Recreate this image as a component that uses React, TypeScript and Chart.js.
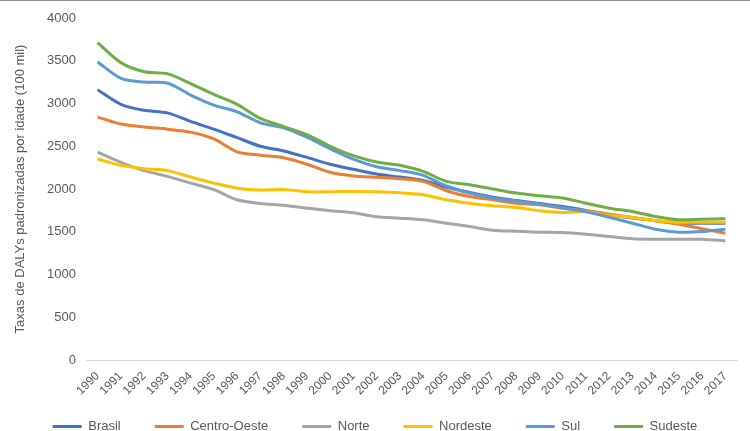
import React, { useEffect, useRef } from 'react';
import { Chart, registerables } from 'chart.js';

Chart.register(...registerables);

const years = [
  '1990', '1991', '1992', '1993', '1994', '1995', '1996', '1997', '1998', '1999',
  '2000', '2001', '2002', '2003', '2004', '2005', '2006', '2007', '2008', '2009',
  '2010', '2011', '2012', '2013', '2014', '2015', '2016', '2017',
];

const brasil = [
  3160, 2990, 2920, 2890, 2790, 2700, 2600, 2500, 2445, 2370,
  2290, 2230, 2175, 2140, 2100, 2020, 1960, 1905, 1865, 1830,
  1795, 1750, 1700, 1660, 1630, 1600, 1600, 1600,
];
const centroOeste = [
  2840, 2760, 2725, 2700, 2665, 2585, 2435, 2395, 2365, 2290,
  2195, 2152, 2136, 2121, 2089, 1980, 1913, 1874, 1834, 1815,
  1776, 1745, 1706, 1667, 1628, 1588, 1534, 1483,
];
const norte = [
  2430, 2312, 2215, 2148, 2069, 1992, 1874, 1830, 1810, 1776,
  1745, 1722, 1675, 1659, 1640, 1600, 1561, 1518, 1506, 1495,
  1491, 1471, 1444, 1417, 1412, 1412, 1412, 1393,
];
const nordeste = [
  2351, 2277, 2238, 2215, 2140, 2069, 2010, 1988, 1995, 1968,
  1968, 1972, 1968, 1956, 1933, 1874, 1834, 1804, 1784, 1745,
  1725, 1737, 1690, 1667, 1628, 1612, 1612, 1612,
];
const sul = [
  3486, 3294, 3251, 3239, 3099, 2981, 2903, 2774, 2715, 2606,
  2472, 2350, 2260, 2215, 2160, 2035, 1953, 1894, 1858, 1823,
  1780, 1733, 1670, 1600, 1530, 1495, 1502, 1530,
];
const sudeste = [
  3713, 3478, 3372, 3349, 3232, 3107, 2989, 2825, 2730, 2637,
  2500, 2390, 2316, 2277, 2207, 2089, 2050, 2000, 1953, 1921,
  1894, 1834, 1776, 1737, 1678, 1640, 1647, 1651,
];

const seriesNames = ['Brasil', 'Centro-Oeste', 'Norte', 'Nordeste', 'Sul', 'Sudeste'];
const seriesColors = ['#4472C4', '#ED7D31', '#A5A5A5', '#FFC000', '#5B9BD5', '#70AD47'];
const seriesValues = [brasil, centroOeste, norte, nordeste, sul, sudeste];

const yTitle = 'Taxas de DALYs padronizadas por idade (100 mil)';
const FONT = '"Liberation Sans", Arial, sans-serif';
const TEXT = '#595959';

export default function App() {
  const ref = useRef<HTMLCanvasElement | null>(null);

  useEffect(() => {
    if (!ref.current) return;
    const n = seriesNames.length;
    const chart = new Chart(ref.current, {
      type: 'line',
      data: {
        labels: years,
        datasets: seriesNames.map((name, i) => ({
          label: name,
          data: seriesValues[i],
          borderColor: seriesColors[i],
          backgroundColor: seriesColors[i],
          borderWidth: 3,
          pointRadius: 0,
          tension: 0.3,
          fill: false,
          order: n - i,
        })),
      },
      options: {
        responsive: false,
        animation: false,
        devicePixelRatio: 1,
        layout: { padding: { top: 18, right: 13, bottom: 0, left: 13 } },
        plugins: {
          tooltip: { enabled: false },
          legend: {
            position: 'bottom',
            labels: {
              boxWidth: 29,
              boxHeight: 3,
              padding: 34,
              color: TEXT,
              font: { family: FONT, size: 13 },
              sort: (a: any, b: any) => a.datasetIndex - b.datasetIndex,
              generateLabels: (c: any) =>
                Chart.defaults.plugins.legend.labels
                  .generateLabels(c)
                  .map((l: any) => ({ ...l, lineWidth: 0, fillStyle: l.strokeStyle })),
            },
          },
        },
        scales: {
          x: {
            type: 'category',
            offset: true,
            grid: { display: false, drawTicks: false },
            border: { display: true, color: '#D9D9D9', width: 1 },
            ticks: {
              autoSkip: false,
              minRotation: 45,
              maxRotation: 45,
              padding: 9,
              color: TEXT,
              font: { family: FONT, size: 12 },
            },
            afterFit: (s: any) => {
              s.height = 26;
              // rotated labels run into the legend band; do not clip them to the axis box
              s._computeLabelArea = () => undefined;
            },
          },
          y: {
            min: 0,
            max: 4000,
            grid: { display: false, drawTicks: false },
            border: { display: false },
            ticks: {
              stepSize: 500,
              padding: 10,
              color: TEXT,
              font: { family: FONT, size: 13 },
              callback: (v: any) => String(v),
            },
            title: {
              display: true,
              text: yTitle,
              color: TEXT,
              font: { family: FONT, size: 13, weight: 'normal' },
              padding: { top: 0, bottom: 0 },
            },
            afterFit: (s: any) => {
              s.width = 73;
            },
          },
        },
      },
    });
    return () => chart.destroy();
  }, []);

  return (
    <div
      style={{
        position: 'fixed',
        left: 0,
        top: 0,
        width: 750,
        height: 431,
        overflow: 'hidden',
        background: '#ffffff',
      }}
    >
      <canvas ref={ref} width={750} height={443} style={{ display: 'block', width: 750, height: 443 }} />
      <div
        style={{
          position: 'absolute',
          left: 0,
          top: 0,
          width: 750,
          height: 1,
          background: '#8C8C8C',
        }}
      />
    </div>
  );
}
